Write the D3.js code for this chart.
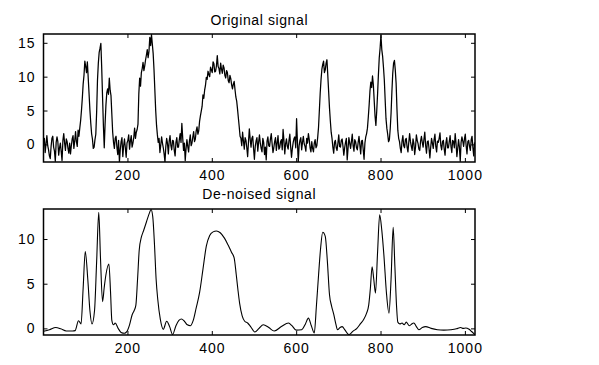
<!DOCTYPE html>
<html><head><meta charset="utf-8">
<script src="https://cdn.jsdelivr.net/npm/d3@7"></script>
<style>
body{margin:0;background:#fff}
svg{display:block}
text{font-family:"Liberation Sans",Arial,Helvetica,sans-serif;fill:#000}
</style></head>
<body><svg id="c" width="599" height="365"></svg>
<script>
// Original (noisy) signal, every 2nd sample starting at sample 1
const originalSignal = [
 0.5,0.9,-1.2,0.1,1.3,-0.2,-0.8,-1.7,-2.1,-0.3,0.9,1.2,-0.4,-1.0,-2.5,0.3,1.1,0.4,-1.6,-0.5,0.2,-1.1,-2.4,0.6,1.6,0.2,-0.9,0.8,0.4,-0.6,-1.3,0.2,
 -1.4,-0.2,0.8,1.3,-0.6,0.5,1.9,0.4,-0.3,2.1,1.2,2.4,3.5,5.0,6.8,8.9,10.2,12.3,11.5,10.6,12.2,9.8,7.5,5.1,3.2,1.6,0.8,-0.6,-0.4,0.7,1.5,4.8,
 9.5,12.0,13.6,14.2,14.9,11.3,7.0,2.8,-0.5,3.0,5.8,7.6,8.2,7.4,9.8,8.0,7.2,4.5,1.8,0.3,-0.6,0.9,1.2,-0.4,-1.5,0.6,-2.6,-0.8,0.4,1.0,-1.8,-0.2,
 0.8,-0.5,-1.9,0.2,0.6,1.4,-0.7,0.5,1.3,-0.4,0.2,1.0,2.4,0.9,1.8,2.2,3.0,7.5,9.8,8.6,10.6,11.2,12.1,10.9,11.6,12.5,13.2,14.0,12.8,13.7,15.8,14.6,
 16.2,14.8,13.4,11.0,8.0,5.0,2.8,1.4,0.3,0.9,-1.2,-0.1,1.1,0.2,-0.5,-1.4,-2.6,-0.3,0.9,0.1,-1.4,0.5,1.3,-0.2,-0.8,0.6,0.5,-0.9,-1.7,0.3,1.0,-0.4,
 -0.4,0.7,1.6,0.3,3.1,1.0,-0.9,0.2,-2.4,-0.6,0.7,-0.3,-1.1,0.5,1.4,-0.2,0.2,1.1,1.9,0.4,0.8,2.0,2.6,1.5,2.0,3.4,4.2,4.9,5.6,7.3,6.8,8.0,
 8.7,9.9,9.6,10.8,10.3,10.0,11.4,11.0,10.6,12.2,11.9,10.7,10.8,11.6,13.1,11.5,11.2,10.4,12.0,11.1,10.5,11.7,11.3,10.2,9.8,10.9,10.6,9.4,9.1,10.2,9.7,8.8,
 8.2,8.9,9.3,8.1,7.0,6.4,5.2,3.9,2.6,1.2,0.9,-0.2,1.8,0.5,-0.7,1.0,0.6,-0.5,-1.8,0.4,2.3,0.8,-0.4,0.9,1.2,-0.6,-2.2,-0.3,0.5,1.0,-1.0,0.3,
 1.4,0.2,-0.6,-1.1,0.9,0.3,-1.5,-0.4,-2.3,0.5,1.1,-0.2,-0.3,0.8,1.6,0.1,-1.2,-0.5,0.4,1.0,-0.9,0.2,1.3,-0.7,-0.5,0.4,0.7,-0.8,2.2,0.6,-1.4,0.1,
 0.8,-0.3,-0.7,0.6,1.5,-0.4,-1.9,-0.6,0.3,0.9,1.1,-0.5,3.8,0.4,-2.6,-0.2,0.6,1.0,-0.8,0.3,1.2,0.1,-0.3,-1.0,0.9,0.2,1.6,0.7,-0.5,-1.1,0.4,-0.6,
 -1.1,0.2,0.7,-0.5,-0.2,1.0,2.5,5.0,7.6,9.6,11.1,11.8,12.3,10.6,11.0,12.0,12.5,10.2,7.8,5.4,3.5,1.8,0.9,-0.4,-1.3,0.3,0.6,-0.5,-0.9,0.2,1.4,-0.3,
 -0.4,0.6,0.8,-0.3,-1.6,-0.5,0.3,0.9,-2.3,-0.6,1.0,0.2,-0.6,0.4,1.5,-0.2,-1.0,0.7,0.4,-0.5,-0.8,0.3,1.2,-0.1,-1.4,0.5,0.6,-0.8,-2.2,0.2,1.1,1.6,
 2.4,4.0,5.8,7.9,9.2,8.4,10.1,8.8,6.5,4.2,2.8,4.9,7.4,10.3,12.8,14.2,16.1,14.0,13.0,11.4,9.5,6.6,3.8,2.4,1.5,0.4,0.7,2.3,4.6,7.8,10.5,12.0,
 12.4,11.0,9.0,5.2,2.1,0.9,0.4,-0.6,-1.2,0.5,1.3,-0.2,-0.5,0.7,0.9,-0.4,-1.1,0.3,1.6,0.4,-0.3,-0.9,0.8,0.2,-1.5,-0.4,1.4,0.6,0.1,-0.7,-0.9,0.5,
 1.2,0.3,-0.4,0.8,1.8,-0.2,-1.3,0.4,0.5,-0.6,-2.0,-0.4,0.9,0.2,-0.6,0.7,1.5,-0.3,-1.1,0.5,0.3,0.9,1.7,-0.2,-0.8,0.4,0.6,-0.7,-1.6,0.2,1.0,-0.5,
 -0.5,0.4,1.3,-0.3,-1.2,0.6,0.4,-0.5,1.6,0.2,-1.8,-0.6,0.7,-0.4,-2.5,0.3,1.1,0.5,-0.3,0.8,1.5,-0.2,-1.4,0.4,0.6,-0.3,-0.9,0.7,1.2,-0.5,-1.7,0.3
];
const originalStep = 2;

// De-noised signal: sample index / value pairs
const denoisedIdx = [1,15,30,42,55,70,76,84,90,95,100,106,111,116,122,127,132,136,141,145,149,156,160,163,167,171,178,185,193,198,205,211,216,220,224,228,233,238,245,252,256,260,264,268,272,278,285,293,300,307,315,322,328,335,342,349,356,363,371,379,387,395,403,411,420,430,439,447,453,458,462,466,472,478,485,492,502,512,522,535,548,565,582,590,600,613,622,629,636,643,648,653,658,663,669,674,679,684,689,694,698,704,709,716,725,735,744,752,760,767,772,776,780,784,788,793,798,803,808,814,820,825,830,834,838,841,846,851,856,861,866,869,874,879,885,891,899,907,920,935,950,967,980,990,996,1002,1010,1016,1024];
const denoisedVal = [-0.33,-0.15,0.1,-0.05,-0.3,-0.3,-0.25,0.86,0.5,4.5,8.6,5.5,2.0,0.5,2.0,7.5,13.0,8.0,3.0,4.6,6.0,7.2,4.0,0.9,0.4,0.6,0.0,-0.45,-0.55,-0.4,0.4,1.5,2.0,2.6,5.5,8.8,10.2,10.9,11.9,12.9,13.3,12.5,9.5,5.5,3.2,1.0,-0.1,0.8,0.2,-0.7,0.3,0.9,1.05,0.8,0.4,0.3,0.9,2.3,4.0,6.6,9.2,10.4,10.8,10.9,10.7,10.1,9.3,8.5,7.9,6.0,4.3,2.8,1.4,0.8,0.6,0.2,-0.4,0.0,0.4,0.1,-0.3,0.2,0.6,0.3,-0.2,-0.15,0.5,1.15,0.3,-0.5,2.5,5.9,9.0,10.75,10.3,7.5,3.8,2.5,1.6,0.5,-0.15,0.1,0.2,-0.2,-0.7,-0.3,0.0,0.5,1.0,1.7,2.6,4.5,6.9,5.5,3.95,8.5,12.7,11.0,8.2,4.0,1.7,5.5,11.3,7.0,2.5,0.7,0.5,0.6,0.4,0.7,0.4,0.3,0.5,0.6,0.2,-0.15,0.1,0.2,0.0,-0.15,-0.2,-0.15,-0.05,0.1,0.0,0.05,-0.1,-0.35,-0.7];

const titles = ["Original signal", "De-noised signal"];
const xTicks = [200, 400, 600, 800, 1000];
const yTicksTop = [0, 5, 10, 15];
const yTicksBottom = [0, 5, 10];
const xLimits = [1, 1024];
const yLimitsTop = [-2.6, 16.3];
const yLimitsBottom = [-0.74, 13.36];

const svg = d3.select("#c");
svg.append("rect").attr("width",599).attr("height",365).attr("fill","#fff");

const left = 43.5, right = 475;
const x = d3.scaleLinear().domain(xLimits).range([left, right]);

const panels = [
  {title: titles[0], top: 34, bottom: 162, ylim: yLimitsTop, yt: yTicksTop, sw: 1.25,
   pts: originalSignal.map((v,i)=>[1 + i*originalStep, v]), curve: d3.curveLinear, titleY: 25},
  {title: titles[1], top: 209, bottom: 335, ylim: yLimitsBottom, yt: yTicksBottom, sw: 1.1,
   pts: denoisedIdx.map((n,i)=>[n, denoisedVal[i]]), curve: d3.curveMonotoneX, titleY: 198.5}
];

panels.forEach((p, k) => {
  const y = d3.scaleLinear().domain(p.ylim).range([p.bottom, p.top]);
  const g = svg.append("g");
  const clipId = "clip" + k;
  svg.append("clipPath").attr("id", clipId).append("rect")
    .attr("x", left).attr("y", p.top).attr("width", right-left).attr("height", p.bottom-p.top);

  g.append("path").datum(p.pts)
    .attr("clip-path", `url(#${clipId})`)
    .attr("fill","none").attr("stroke","#000").attr("stroke-width",p.sw)
    .attr("stroke-linejoin","round")
    .attr("d", d3.line().x(d=>x(d[0])).y(d=>y(d[1])).curve(p.curve));

  const fontSize = "14px";
  const ax = (sel) => { sel.select(".domain").remove(); sel.selectAll("line").attr("stroke","#000"); sel.selectAll("text").style("font-size",fontSize).attr("letter-spacing","1px"); };

  g.append("g").attr("transform",`translate(0,${p.bottom})`)
    .call(d3.axisBottom(x).tickValues(xTicks).tickSize(-4).tickPadding(8).tickFormat(d3.format("d"))).call(ax);
  g.append("g").attr("transform",`translate(0,${p.top})`)
    .call(d3.axisTop(x).tickValues(xTicks).tickSize(-4).tickFormat("")).call(ax);
  g.append("g").attr("transform",`translate(${left},0)`)
    .call(d3.axisLeft(y).tickValues(p.yt).tickSize(-4).tickPadding(8).tickFormat(d3.format("d"))).call(ax);
  g.append("g").attr("transform",`translate(${right},0)`)
    .call(d3.axisRight(y).tickValues(p.yt).tickSize(-4).tickFormat("")).call(ax);

  g.append("rect").attr("x",left).attr("y",p.top).attr("width",right-left).attr("height",p.bottom-p.top)
    .attr("fill","none").attr("stroke","#000").attr("stroke-width",1.5);

  svg.append("text").attr("x",(left+right)/2).attr("y",p.titleY)
    .attr("text-anchor","middle").style("font-size","14px").attr("letter-spacing","0.6px").text(p.title);
});
</script></body></html>
